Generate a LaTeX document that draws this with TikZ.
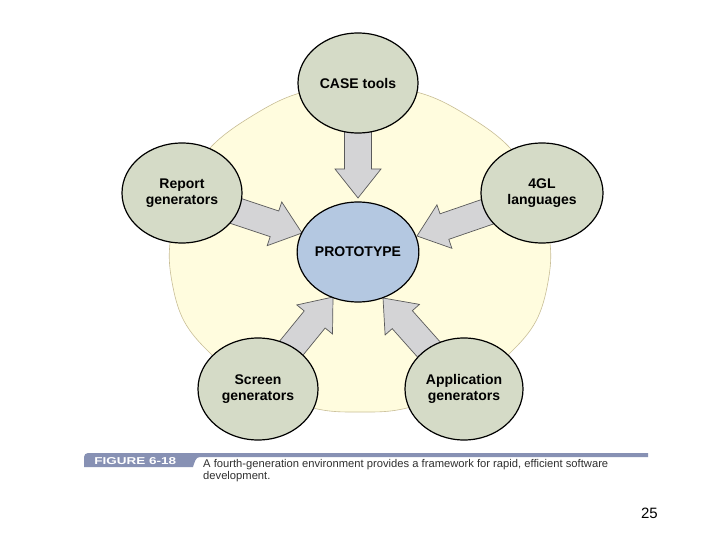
\documentclass[tikz,border=0pt]{standalone}
\usepackage{fontspec}
\setmainfont{Liberation Sans}
\usetikzlibrary{shapes.geometric,calc}
\pgfdeclarelayer{bg}
\pgfdeclarelayer{arr}
\pgfsetlayers{bg,arr,main}
\definecolor{satfill}{HTML}{D5DBC7}
\definecolor{protofill}{HTML}{B4C8E1}
\definecolor{padfill}{HTML}{FFFCDE}
\definecolor{padline}{HTML}{C8BE96}
\definecolor{arrfill}{HTML}{D4D4D6}
\definecolor{arrline}{HTML}{5A5A5A}
\definecolor{barcol}{HTML}{8791B4}
\definecolor{captext}{HTML}{303030}
\tikzset{
  bubble/.style={ellipse, draw=black, line width=1.2pt, fill=satfill, inner sep=0pt,
    minimum width=120pt, minimum height=100pt, align=center,
    font=\fontsize{14}{15.5}\selectfont\bfseries},
  protobubble/.style={bubble, fill=protofill},
  blockarrow/.style={fill=arrfill, draw=arrline, line width=0.7pt, line join=miter}
}
\newcommand\blockarr[2]{%
  \draw[blockarrow] let \p1=(#1), \p2=(#2),
     \n1={atan2(\y2-\y1,\x2-\x1)}, \n2={veclen(\x2-\x1,\y2-\y1)} in
     ($(\p1)+(\n1+90:13.5pt)$) -- ($(\p2)+(\n1+180:29pt)+(\n1+90:13.5pt)$)
     -- ($(\p2)+(\n1+180:29pt)+(\n1+90:23pt)$) -- (\p2)
     -- ($(\p2)+(\n1+180:29pt)+(\n1-90:23pt)$)
     -- ($(\p2)+(\n1+180:29pt)+(\n1-90:13.5pt)$)
     -- ($(\p1)+(\n1-90:13.5pt)$) -- cycle;}
\begin{document}
\begin{tikzpicture}[x=1pt,y=-1pt]
\begin{pgfonlayer}{bg}
\fill[white] (0,0) rectangle (720,540);
\end{pgfonlayer}
\useasboundingbox (0,0) rectangle (720,540);
% background pad
\begin{pgfonlayer}{bg}
\draw[fill=padfill, draw=padline, line width=0.6pt] plot[smooth cycle, tension=0.6] coordinates {
  (360,86) (300,93) (252,116) (210,148) (182,192) (170,243) (172,282) (184,321) (210,353) (250,385)
  (313,408) (360,412) (407,408) (470,385) (510,353) (536,321) (548,282)
  (550,243) (538,192) (510,148) (468,116) (420,93)};
\end{pgfonlayer}
% bubbles
\node[bubble] (case) at (358,83) {CASE tools};
\node[bubble] (rep) at (182,193) {Report\\generators};
\node[bubble, minimum width=122pt] (gl) at (542,193) {4GL\\languages};
\node[protobubble] (proto) at (358,252) {PROTOTYPE};
\node[bubble, minimum height=102pt] (scr) at (258,389) {Screen\\generators};
\node[bubble, minimum width=118pt, minimum height=102pt] (app) at (464,389) {Application\\generators};
% arrow tips
\coordinate (t1) at (358,198);
\coordinate (t2) at (302,233);
\coordinate (t3) at (417,236);
\coordinate (t4) at (333,297);
\coordinate (t5) at (383,298);
\begin{pgfonlayer}{arr}
\blockarr{case}{t1}
\blockarr{rep}{t2}
\blockarr{gl}{t3}
\blockarr{scr}{t4}
\blockarr{app}{t5}
\end{pgfonlayer}
% caption bar
\fill[barcol] (84,467) -- (84,457) to[out=90,in=180] (88,453) -- (648,453) -- (648,457)
  -- (200,457) to[out=180,in=70] (193,467) -- cycle;
\node[anchor=west, text=white, font=\fontsize{10}{10}\selectfont\bfseries, xscale=1.35,
  inner sep=0pt] (figlabel) at (94,461.5) {FIGURE 6-18};
\node[anchor=north west, align=left, text=captext, inner sep=0pt,
  font=\fontsize{11.2}{12}\selectfont] (cap) at (203,459.5) {A fourth-generation environment provides a framework for rapid, efficient software\\development.};
\node[anchor=base east, inner sep=0pt, font=\fontsize{15}{16}\selectfont] (pg) at (658,518) {25};
\end{tikzpicture}
\end{document}
